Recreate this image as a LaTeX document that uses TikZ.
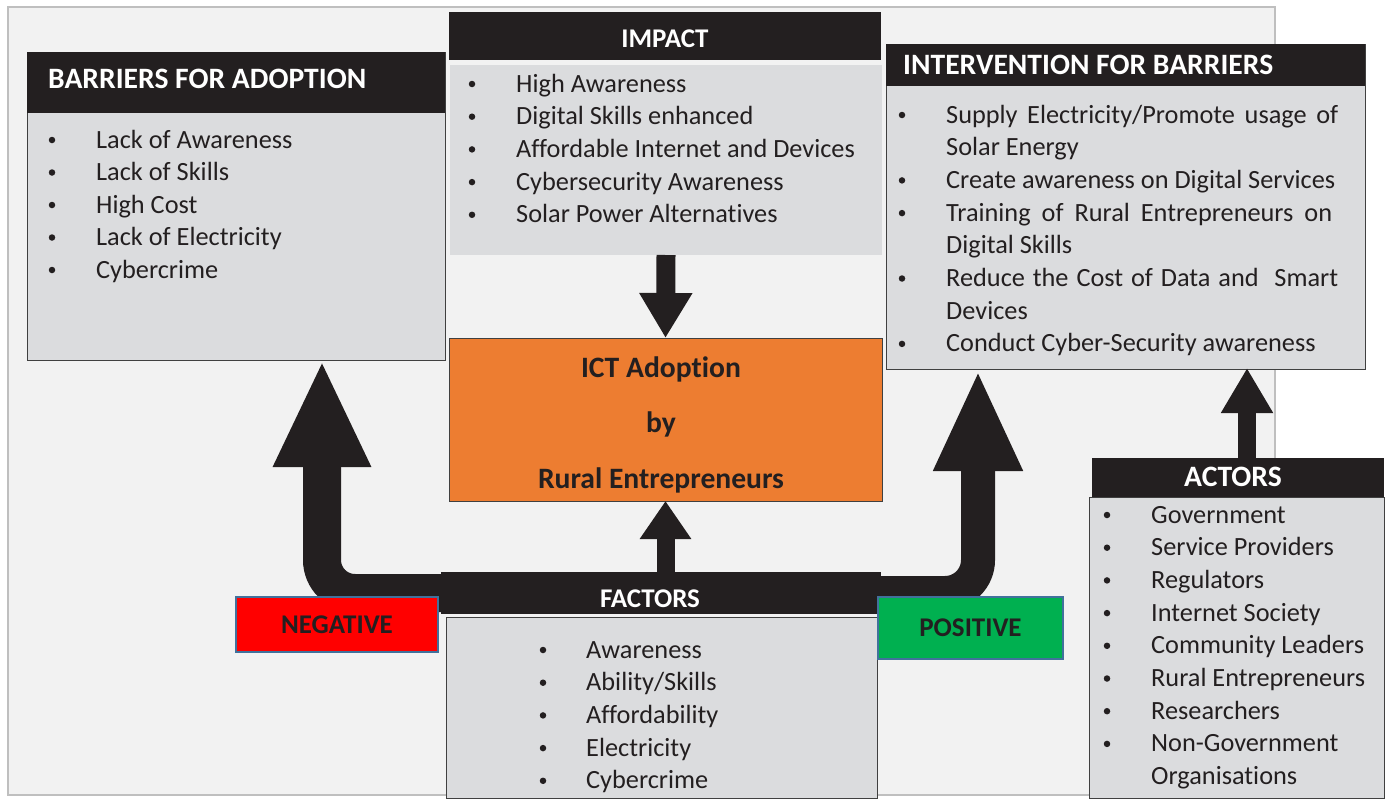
\documentclass[tikz,border=0pt]{standalone}
\usepackage{fontspec}
\setmainfont{Carlito}[Ligatures=NoCommon]
\usetikzlibrary{arrows.meta,positioning}
\definecolor{panelgray}{HTML}{F2F2F2}
\definecolor{framegray}{HTML}{BFBFBF}
\definecolor{bodygray}{HTML}{DBDCDE}
\definecolor{edgegray}{HTML}{404040}
\definecolor{headblack}{HTML}{231F20}
\definecolor{ictorange}{HTML}{ED7D31}
\definecolor{negred}{HTML}{FF0000}
\definecolor{posgreen}{HTML}{00B050}
\definecolor{labelblue}{HTML}{41719C}
\newcommand{\boxitemfont}{\fontsize{26.3pt}{32pt}\selectfont}
\newcommand{\boxheadfont}{\fontsize{27pt}{32pt}\selectfont\bfseries}
\newcommand{\boxtitlefont}{\fontsize{29.6pt}{32pt}\selectfont\bfseries}
\tikzset{
    box body/.style = {
        fill = bodygray,
        draw = edgegray,
        line width = 1pt,
        anchor = north west,
        inner sep = 0pt,
        outer sep = 0pt,
        },
    box head/.style = {
        fill = headblack,
        anchor = north west,
        inner sep = 0pt,
        outer sep = 0pt,
        },
    head text/.style = {
        text = white,
        font = \boxheadfont,
        inner sep = 0pt,
        },
    title text/.style = {
        text = white,
        font = \boxtitlefont,
        inner sep = 0pt,
        },
    item/.style = {
        text = headblack,
        font = \boxitemfont,
        anchor = base west,
        inner sep = 0pt,
        },
    dot/.style = {
        circle,
        fill = headblack,
        minimum size = 6.5pt,
        inner sep = 0pt,
        },
    sign/.style = {
        draw = labelblue,
        line width = 1.5pt,
        text = headblack,
        font = \boxheadfont,
        anchor = north west,
        inner sep = 0pt,
        outer sep = 0pt,
        },
    thin arrow/.style = {
        draw = headblack,
        line width = 18pt,
        },
    fat arrow/.style = {
        draw = headblack,
        rounded corners = 33pt,
        },
}

\begin{document}
\begin{tikzpicture}[x=1pt, y=-1pt]
    \useasboundingbox (0,0) rectangle (1391,798);
    \fill[white] (0,0) rectangle (1391,798);
    \draw[fill=panelgray, draw=framegray, line width=2pt] (8,7) rectangle (1275,795);

    % barriers
    \node[box body, minimum width=418pt, minimum height=308pt] (bar) at (27,52) {};
    \node[box head, minimum width=418pt, minimum height=61pt] (barHead) at (27,52) {};
    \node[title text, anchor=base west] (barTitle) at (48,88) {BARRIERS FOR ADOPTION};
    \foreach \txt [count=\i from 0] in {Lack of Awareness, Lack of Skills, High Cost, Lack of Electricity, Cybercrime}{
        \node[dot] (barDot\i) at (52,{140+32.5*\i}) {};
        \node[item] (barItem\i) at (96,{148+32.5*\i}) {\txt};
    }

    % impact
    \node[box body, draw=none, minimum width=432pt, minimum height=190pt] (imp) at (450,65) {};
    \node[box head, minimum width=432pt, minimum height=48pt] (impHead) at (449,12) {};
    \node[head text, anchor=base] (impTitle) at (665,47) {IMPACT};
    \foreach \txt [count=\i from 0] in {High Awareness, Digital Skills enhanced, Affordable Internet and Devices, Cybersecurity Awareness, Solar Power Alternatives}{
        \node[dot] (impDot\i) at (472,{84+32.7*\i}) {};
        \node[item] (impItem\i) at (516,{92+32.7*\i}) {\txt};
    }

    % ict adoption
    \node[box body, fill=ictorange, minimum width=433pt, minimum height=163pt] (ict) at (449,338) {};
    \foreach \txt [count=\i from 0] in {ICT Adoption, by, Rural Entrepreneurs}{
        \node[title text, text=headblack, anchor=base] (ictLine\i) at (661,{377+55.5*\i}) {\txt};
    }

    % intervention
    \node[box body, minimum width=479pt, minimum height=325pt] (int) at (886,44) {};
    \node[box head, minimum width=479pt, minimum height=42pt] (intHead) at (886,44) {};
    \node[title text, anchor=base west] (intTitle) at (903,74) {INTERVENTION FOR BARRIERS};
    \foreach \txt [count=\i from 0] in {{\makebox[392pt][s]{Supply Electricity/Promote usage of}}, Solar Energy, Create awareness on Digital Services, {\makebox[386pt][s]{Training of Rural Entrepreneurs on}}, Digital Skills, {\makebox[392pt][s]{Reduce the Cost of Data and \ Smart}}, Devices, Conduct Cyber-Security awareness}{
        \node[item] (intItem\i) at (946,{123+32.7*\i}) {\txt};
    }
    \foreach \i in {0,2,3,5,7}{
        \node[dot] (intDot\i) at (902,{115+32.7*\i}) {};
    }

    % actors
    \node[box body, minimum width=295pt, minimum height=301pt] (act) at (1089,497) {};
    \node[box head, minimum width=292pt, minimum height=39pt] (actHead) at (1092,458) {};
    \node[title text, anchor=base] (actTitle) at (1233,486) {ACTORS};
    \foreach \txt [count=\i from 0] in {Government, Service Providers, Regulators, Internet Society, Community Leaders, Rural Entrepreneurs, Researchers, Non-Government, Organisations}{
        \node[item] (actItem\i) at (1151,{523+32.7*\i}) {\txt};
    }
    \foreach \i in {0,...,7}{
        \node[dot] (actDot\i) at (1107,{515+32.7*\i}) {};
    }

    % factors
    \node[box body, minimum width=431pt, minimum height=181pt] (fac) at (446,617) {};
    \node[box head, minimum width=440pt, minimum height=42pt] (facHead) at (441,572) {};
    \node[head text, anchor=base] (facTitle) at (650,607) {FACTORS};
    \foreach \txt [count=\i from 0] in {Awareness, Ability/Skills, Affordability, Electricity, Cybercrime}{
        \node[dot] (facDot\i) at (543,{650+32.7*\i}) {};
        \node[item] (facItem\i) at (586,{658+32.7*\i}) {\txt};
    }

    \coordinate (negTip) at (322,360);
    \coordinate (posTip) at (978,370);
    \coordinate (actTip) at (1247,368);

    \draw[fat arrow, line width=38pt, -{Triangle[length=107pt, width=90pt]}] (facHead.west) -| (negTip);
    \draw[fat arrow, line width=34pt, -{Triangle[length=101pt, width=82pt]}] (facHead.east) -| (posTip);
    \draw[thin arrow, line width=19pt, -{Triangle[length=45pt, width=50pt]}] (imp.south) -- (ict.north);
    \draw[thin arrow, -{Triangle[length=38pt, width=49pt]}] (ict.south |- facHead.north) -- (ict.south);
    \draw[thin arrow, -{Triangle[length=45pt, width=49pt]}] (actTip |- actHead.north) -- (actTip);

    \node[sign, fill=negred, minimum width=202pt, minimum height=55pt] (neg) at (236,597) {NEGATIVE};
    \node[sign, fill=posgreen, minimum width=185pt, minimum height=62pt] (pos) at (878,597) {POSITIVE};
\end{tikzpicture}
\end{document}
